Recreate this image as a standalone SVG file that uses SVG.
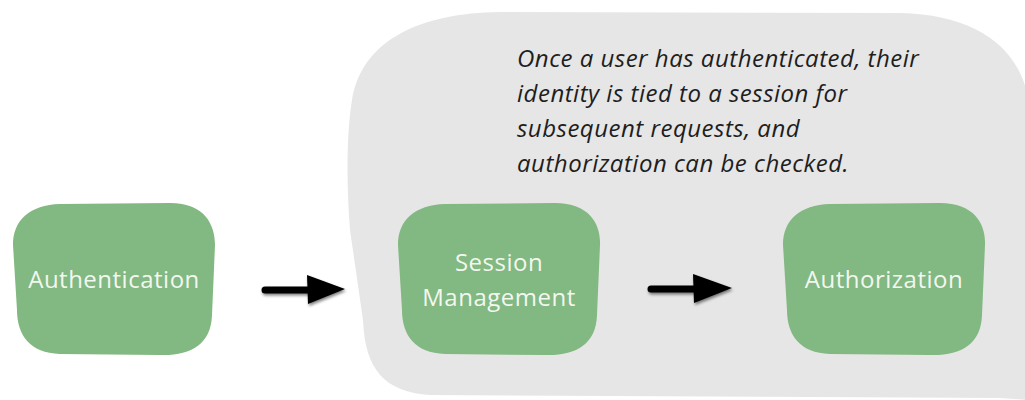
<svg xmlns="http://www.w3.org/2000/svg" width="1025" height="400" viewBox="0 0 1025 400">
<style>
.node{fill:#82b881;}
.lbl{font-family:"Open Sans","Liberation Sans",sans-serif;font-size:24px;letter-spacing:0.5px;fill:#f2f7f0;text-anchor:middle;}
.note{font-family:"Open Sans","Liberation Sans",sans-serif;font-style:italic;font-size:24px;letter-spacing:0.5px;fill:#1e1e1e;}
.arr{stroke:#000;stroke-width:7;stroke-linecap:round;fill:none;}
.head{fill:#000;}
</style>
<defs>
<filter id="sh" x="-20%" y="-50%" width="140%" height="200%">
<feGaussianBlur in="SourceAlpha" stdDeviation="1.5"/>
<feOffset dx="1" dy="2" result="b"/>
<feComponentTransfer><feFuncA type="linear" slope="0.5"/></feComponentTransfer>
<feMerge><feMergeNode/><feMergeNode in="SourceGraphic"/></feMerge>
</filter>
</defs>
<g id="container">
<path d="M 500 12 L 900 13 C 990 15 1030 60 1030 120 L 1030 400 L 1000 398 L 430 395 C 385 392 365 370 363 320 L 350 230 C 346 180 347 130 352 100 C 362 40 420 13 500 12 Z" fill="#e6e6e6"/>
<text class="note" x="517" y="67">Once a user has authenticated, their</text>
<text class="note" x="517" y="102">identity is tied to a session for</text>
<text class="note" x="517" y="137">subsequent requests, and</text>
<text class="note" x="517" y="172">authorization can be checked.</text>
</g>
<g id="node-authentication">
<path class="node" d="M 60 204 L 170 203 C 205 203 215 225 215 245 L 212 315 C 211 345 190 356 160 355 L 60 354 C 30 353 17 335 17 310 L 13 245 C 13 220 30 205 60 204 Z"/>
<text class="lbl" x="114" y="288">Authentication</text>
</g>
<g id="node-session">
<path class="node" d="M 445 204 L 555 203 C 590 203 601 225 600 245 L 597 315 C 596 345 575 356 545 355 L 445 354 C 415 353 402 335 402 310 L 398 245 C 398 220 415 205 445 204 Z"/>
<text class="lbl" x="499" y="271">Session</text>
<text class="lbl" x="499" y="306">Management</text>
</g>
<g id="node-authorization">
<path class="node" d="M 830 204 L 940 203 C 975 203 986 225 985 245 L 982 315 C 981 345 960 356 930 355 L 830 354 C 800 353 787 335 787 310 L 783 245 C 783 220 800 205 830 204 Z"/>
<text class="lbl" x="884" y="288">Authorization</text>
</g>
<g id="connectors" filter="url(#sh)">
<line class="arr" x1="265" y1="290" x2="312" y2="290"/>
<path class="head" d="M 307 275 L 345 289 L 308 304 Z"/>
<line class="arr" x1="651" y1="289" x2="698" y2="289"/>
<path class="head" d="M 693 274 L 732 288 L 694 303 Z"/>
</g>
</svg>
